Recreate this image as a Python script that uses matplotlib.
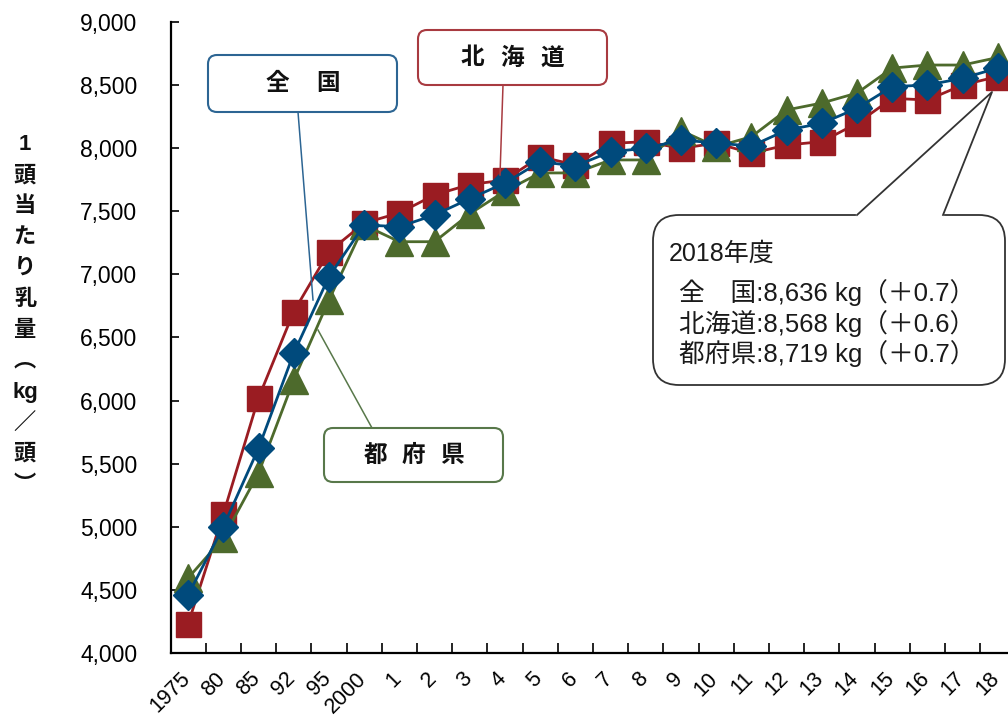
import matplotlib

matplotlib.use("Agg")
import matplotlib.pyplot as plt
import numpy as np
from matplotlib.patches import FancyBboxPatch
from matplotlib.ticker import FuncFormatter, MultipleLocator
from matplotlib.transforms import ScaledTranslation

plt.rcParams["font.family"] = ["Liberation Sans", "Noto Sans CJK JP"]

# 1頭当たり乳量 (kg/頭)
years = ["1975", "80", "85", "92", "95", "2000", "1", "2", "3", "4", "5", "6",
         "7", "8", "9", "10", "11", "12", "13", "14", "15", "16", "17", "18"]
zenkoku = [4460, 5001, 5622, 6375, 6982, 7392, 7378, 7471, 7600, 7724, 7893, 7859,
           7972, 7999, 8065, 8041, 8017, 8144, 8197, 8316, 8488, 8501, 8554, 8636]
hokkaido = [4230, 5100, 6021, 6705, 7180, 7407, 7487, 7630, 7712, 7748, 7933, 7867,
            8038, 8052, 7999, 8040, 7960, 8025, 8052, 8197, 8395, 8382, 8501, 8568]
tofuken = [4594, 4911, 5426, 6163, 6797, 7390, 7259, 7259, 7480, 7660, 7804, 7804,
           7907, 7907, 8140, 8012, 8091, 8303, 8358, 8437, 8635, 8659, 8659, 8719]
change = [0.7, 0.6, 0.7]  # 前年比 (%)

RED = "#9a1c22"
GREEN = "#4d6a2c"
BLUE = "#004a7c"

W, H = 1008, 720
fig = plt.figure(figsize=(W / 100, H / 100), dpi=100)
ax = fig.add_axes([170.5 / W, (H - 653) / H, 845 / W, 631 / H])

x = np.arange(len(years))
ax.plot(x, hokkaido, color=RED, lw=2.0, marker="s", ms=18, zorder=3)
ax.plot(x, tofuken, color=GREEN, lw=2.0, marker="^", ms=20, zorder=4)
ax.plot(x, zenkoku, color=BLUE, lw=2.0, marker="D", ms=15, zorder=5)

ax.set_xlim(-0.5, len(years) - 0.5)
ax.set_ylim(4000, 9000)
ax.yaxis.set_major_locator(MultipleLocator(500))
ax.yaxis.set_major_formatter(FuncFormatter(lambda v, _: f"{v:,.0f}"))
ax.tick_params(axis="y", direction="in", length=6, width=1.2, labelsize=16.5, pad=24)

ax.set_xticks(x)
ax.set_xticklabels(years, rotation=45, ha="right")
ax.set_xticks(np.arange(len(years) + 1) - 0.5, minor=True)
ax.tick_params(axis="x", which="major", length=0, labelsize=15.5, pad=11)
ax.tick_params(axis="x", which="minor", direction="in", length=7, width=1.2)
shift = ScaledTranslation(6 / 100, 0, fig.dpi_scale_trans)
for lbl in ax.get_xticklabels():
    lbl.set_transform(lbl.get_transform() + shift)

for side in ("top", "right"):
    ax.spines[side].set_visible(False)
for side in ("left", "bottom"):
    ax.spines[side].set_linewidth(1.6)

# overlay in pixel units for the labels and callouts
ov = fig.add_axes([0, 0, 1, 1])
ov.set_xlim(0, W)
ov.set_ylim(H, 0)
ov.axis("off")
ov.patch.set_alpha(0)


def label_box(x0, y0, x1, y1, color, chars, step, leader):
    ov.add_patch(FancyBboxPatch((x0, y0), x1 - x0, y1 - y0,
                                boxstyle="round,pad=0,rounding_size=9",
                                fc="white", ec=color, lw=1.5, zorder=6))
    cx, cy = (x0 + x1) / 2, (y0 + y1) / 2
    offs = (np.arange(len(chars)) - (len(chars) - 1) / 2) * step
    for ch, dx in zip(chars, offs):
        ov.text(cx + dx, cy, ch, ha="center", va="center", fontsize=17,
                fontweight="bold", family="Noto Sans CJK JP", color="#111111", zorder=7)
    ov.plot(*zip(*leader), color=color, lw=1.1, zorder=5)


label_box(208, 55, 397, 112, "#2c6593", "全国", 51, [(298, 112), (313, 300)])
label_box(418, 30, 607, 85, "#a83a40", "北海道", 40, [(503, 85), (500, 175)])
label_box(324, 428, 503, 482, "#58784a", "都府県", 38, [(372, 428), (318, 330)])

# 2018年度 callout
ov.add_patch(FancyBboxPatch((653, 215), 352, 170, boxstyle="round,pad=0,rounding_size=26",
                            fc="white", ec="#333333", lw=1.3, zorder=6))
ov.plot([858, 942], [215, 215], color="white", lw=3, zorder=7)
ov.plot([857, 992, 943], [215, 92, 215], color="#333333", lw=1.3, zorder=7)

ov.text(669, 254, "2018年度", ha="left", va="center", fontsize=18, color="#1a1a1a", zorder=8)
rows = [("全　国", zenkoku[-1], change[0]),
        ("北海道", hokkaido[-1], change[1]),
        ("都府県", tofuken[-1], change[2])]
for i, (name, val, chg) in enumerate(rows):
    ov.text(679, 293 + i * 30.5, f"{name}:{val:,} kg（＋{chg}）", ha="left", va="center",
            fontsize=18.5, color="#1a1a1a", zorder=8)

# vertical y-axis title
ylabel = ["1", "頭", "当", "た", "り", "乳", "量", "︵", "kg", "／", "頭", "︶"]
ov.text(25, 315, "\n".join(ylabel), ha="center", va="center", fontsize=16,
        fontweight="bold", family=["Liberation Sans", "Noto Sans CJK JP"],
        linespacing=1.62, color="#111111")

fig.savefig("out.png", dpi=100)
plt.close(fig)
